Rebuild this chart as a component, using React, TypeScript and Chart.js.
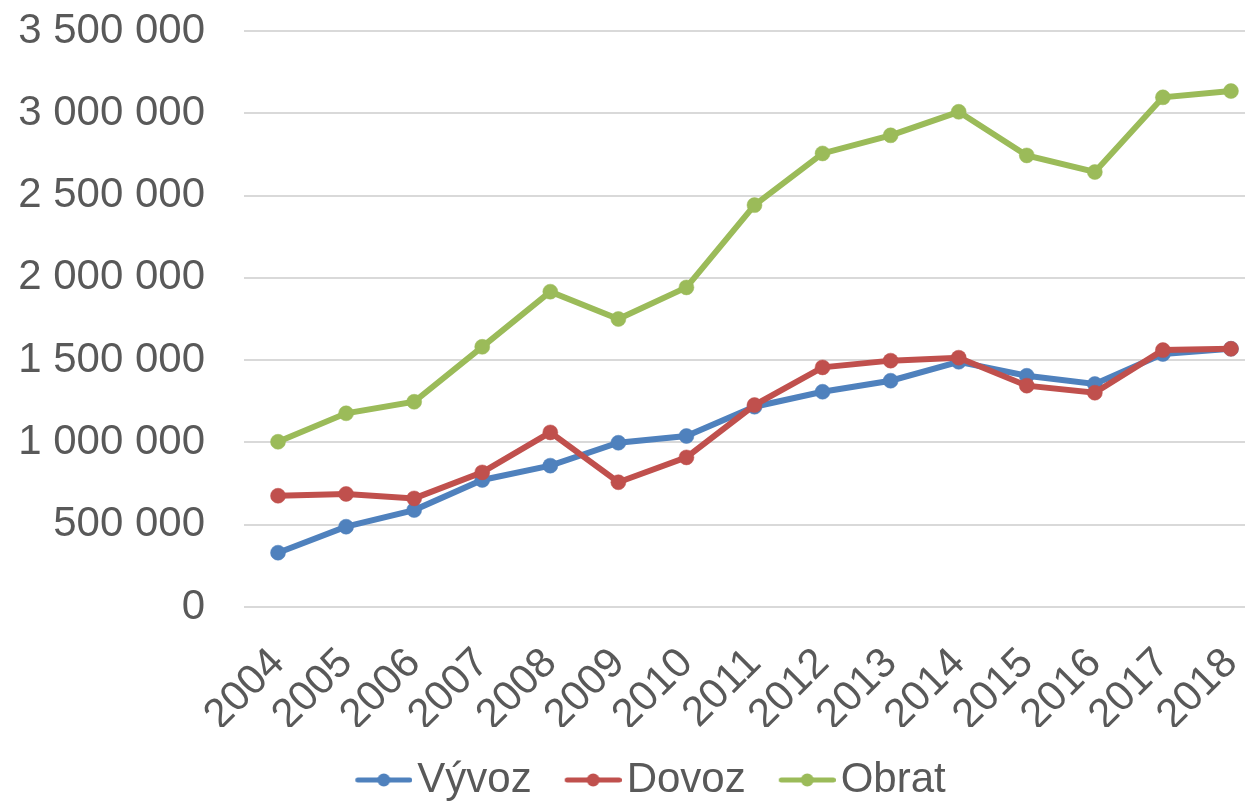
import { useEffect, useRef } from "react";
import { Chart, registerables } from "chart.js";

Chart.register(...registerables);

const YEARS = ["2004", "2005", "2006", "2007", "2008", "2009", "2010", "2011", "2012", "2013", "2014", "2015", "2016", "2017", "2018"];
const VYVOZ = [330000, 488000, 589000, 772000, 859000, 998000, 1039000, 1217000, 1308000, 1375000, 1490000, 1405000, 1355000, 1537000, 1569000];
const DOVOZ = [676000, 687000, 660000, 818000, 1061000, 758000, 909000, 1227000, 1456000, 1497000, 1515000, 1345000, 1302000, 1561000, 1569000];
const OBRAT = [1004000, 1177000, 1247000, 1581000, 1916000, 1750000, 1942000, 2442000, 2756000, 2866000, 3009000, 2744000, 2643000, 3097000, 3135000];
const SERIES_NAMES = ["Vývoz", "Dovoz", "Obrat"];
const SERIES_COLORS = ["#4f81bd", "#c0504d", "#9bbb59"];
const Y_MIN = 0;
const Y_MAX = 3500000;
const Y_STEP = 500000;

const FONT = "'Liberation Sans', Arial, sans-serif";
const TEXT = "#595959";

function fmt(v: number): string {
  return String(v).replace(/\B(?=(\d{3})+(?!\d))/g, " ");
}

function legendIcon(color: string): HTMLCanvasElement {
  const c = document.createElement("canvas");
  c.width = 74;
  c.height = 16;
  const ctx = c.getContext("2d")!;
  ctx.strokeStyle = color;
  ctx.lineWidth = 5;
  ctx.lineCap = "round";
  ctx.beginPath();
  ctx.moveTo(19.5, 8);
  ctx.lineTo(71.5, 8);
  ctx.stroke();
  ctx.fillStyle = color;
  ctx.beginPath();
  ctx.arc(45.5, 8, 6.5, 0, Math.PI * 2);
  ctx.fill();
  return c;
}

const legendShift = {
  id: "legendShift",
  afterLayout(chart: any) {
    if (chart.legend) {
      chart.legend.left += 16;
      chart.legend.right += 16;
    }
  },
};

export default function App() {
  const ref = useRef<HTMLCanvasElement | null>(null);

  useEffect(() => {
    if (!ref.current) return;
    const values = [VYVOZ, DOVOZ, OBRAT];
    const icons = SERIES_COLORS.map(legendIcon);
    const chart = new Chart(ref.current, {
      type: "line",
      data: {
        labels: YEARS,
        datasets: SERIES_NAMES.map((name, i) => ({
          label: name,
          data: values[i],
          borderColor: SERIES_COLORS[i],
          backgroundColor: SERIES_COLORS[i],
          borderWidth: 6,
          pointRadius: 7.5,
          pointBorderWidth: 0.5,
          pointBackgroundColor: SERIES_COLORS[i],
          pointBorderColor: SERIES_COLORS[i],
          tension: 0,
          order: 2 - i,
          clip: false as any,
        })),
      },
      plugins: [legendShift],
      options: {
        animation: false,
        responsive: false,
        layout: { padding: { top: 31, left: 0, right: 5, bottom: 0 } },
        plugins: {
          tooltip: { enabled: false },
          legend: {
            position: "bottom",
            labels: {
              usePointStyle: true,
              pointStyleWidth: 42,
              padding: 32,
              color: TEXT,
              font: { family: FONT, size: 42 },
              generateLabels: (ch: any) =>
                ch.data.datasets.map((ds: any, i: number) => ({
                  text: ds.label,
                  fillStyle: ds.borderColor,
                  strokeStyle: ds.borderColor,
                  lineWidth: 0,
                  pointStyle: icons[i],
                  hidden: false,
                  datasetIndex: i,
                  fontColor: TEXT,
                })),
            },
          },
        },
        scales: {
          x: {
            offset: true,
            grid: { display: false, offset: true },
            border: { display: false },
            ticks: {
              autoSkip: false,
              maxRotation: 45,
              minRotation: 45,
              padding: 40,
              color: TEXT,
              font: { family: FONT, size: 42, lineHeight: 0.1 },
            },
            afterFit: (scale: any) => {
              scale.height = 120;
              scale.paddingLeft = 0;
              scale.paddingRight = 0;
            },
          },
          y: {
            min: Y_MIN,
            max: Y_MAX,
            border: { display: false },
            grid: { color: "#d9d9d9", lineWidth: 2, drawTicks: false },
            ticks: {
              stepSize: Y_STEP,
              padding: 39,
              color: TEXT,
              font: { family: FONT, size: 42 },
              callback: (v: any) => fmt(Number(v)),
            },
            afterFit: (scale: any) => {
              scale.width = 244;
              scale.paddingTop = 0;
              scale.paddingBottom = 0;
            },
          },
        },
      },
    });
    return () => chart.destroy();
  }, []);

  return (
    <div
      style={{
        position: "fixed",
        left: 0,
        top: 0,
        width: 1245,
        height: 802,
        overflow: "hidden",
        background: "#ffffff",
      }}
    >
      <canvas ref={ref} width={1273} height={811} style={{ display: "block", width: 1273, height: 811 }} />
    </div>
  );
}
